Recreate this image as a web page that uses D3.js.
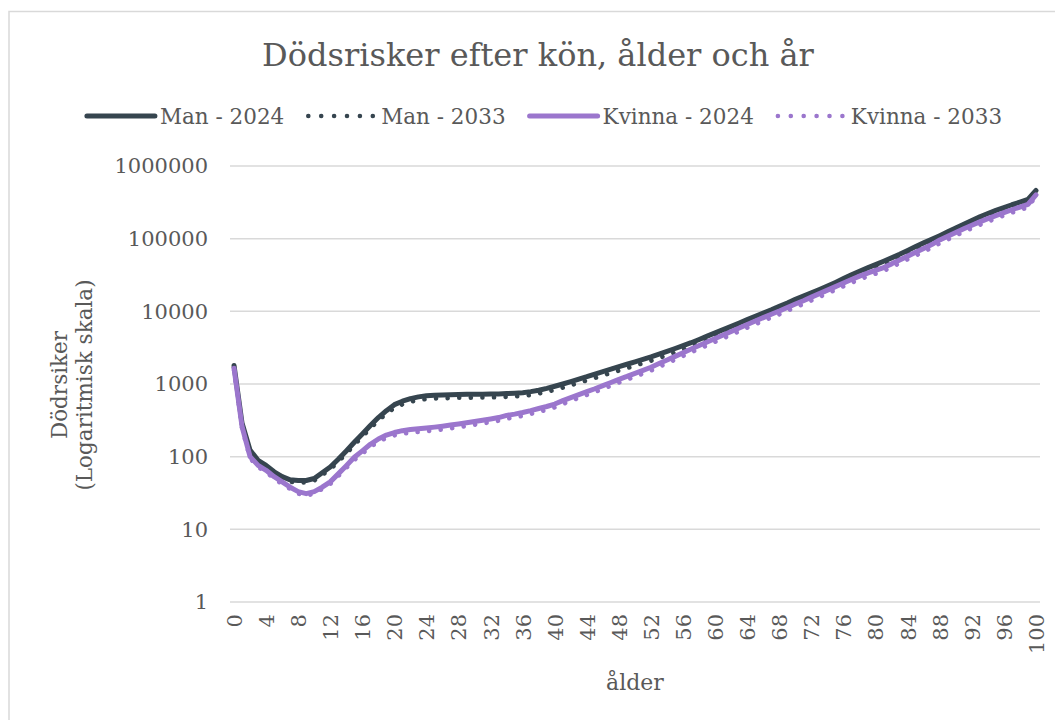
<!DOCTYPE html>
<html>
<head>
    <meta charset="utf-8">
    <title>Dödsrisker efter kön, ålder och år</title>
    <script src="https://d3js.org/d3.v7.min.js"></script>
    <style>
        body {
            margin: 0;
            background: #fff;
            font-family: "DejaVu Serif", serif;
        }
        svg text {
            fill: #595959;
        }
    </style>
</head>
<body>
    <div id="chart"></div>

    <script>
        // ålder 0..100
        const ages = d3.range(0, 101);
        const xTicks = d3.range(0, 101, 4);
        const yTicks = [1, 10, 100, 1000, 10000, 100000, 1000000];

        const seriesNames = ["Man - 2024", "Man - 2033", "Kvinna - 2024", "Kvinna - 2033"];

        const man2024 = [
            1800, 290, 123, 89, 76, 62, 53, 48, 47, 47,
            50, 60, 72, 92, 120, 158, 205, 268, 345, 430,
            520, 580, 630, 665, 690, 700, 705, 712, 716, 720,
            722, 724, 726, 730, 738, 748, 760, 785, 820, 870,
            930, 1000, 1080, 1170, 1260, 1370, 1480, 1600, 1730, 1870,
            2020, 2180, 2360, 2580, 2820, 3080, 3370, 3700, 4100, 4550,
            5050, 5600, 6200, 6900, 7700, 8550, 9500, 10500, 11700, 13000,
            14600, 16200, 18000, 20000, 22300, 25000, 28200, 31800, 35600, 39600,
            44000, 48800, 54400, 61000, 69000, 78000, 87500, 98000, 110000, 124000,
            140000, 158000, 178000, 200000, 222000, 245000, 268000, 293000, 318000, 346000,
            460000
        ];
        const man2033 = [
            1700, 270, 115, 84, 71, 58, 50, 45, 44, 44,
            47, 56, 67, 85, 110, 145, 188, 245, 315, 390,
            470, 525, 570, 600, 620, 630, 635, 640, 645, 648,
            650, 652, 654, 657, 664, 673, 684, 705, 738, 780,
            830, 890, 960, 1040, 1120, 1210, 1310, 1420, 1530, 1650,
            1790, 1930, 2090, 2280, 2490, 2720, 2980, 3270, 3600, 3990,
            4440, 4930, 5450, 6070, 6770, 7520, 8360, 9240, 10300, 11400,
            12800, 14200, 15800, 17600, 19600, 22000, 24800, 28000, 31300, 34800,
            38700, 43000, 48000, 54000, 61000, 69000, 77000, 86500, 97000, 109000,
            124000, 140000, 158000, 178000, 199000, 221000, 243000, 267000, 293000, 322000,
            440000
        ];
        const kvinna2024 = [
            1650, 260, 100, 76, 65, 53, 45, 38, 33, 31,
            33, 38, 45, 58, 75, 98, 120, 148, 175, 198,
            215, 228, 236, 242, 248, 255, 263, 272, 282, 293,
            305, 317, 330, 345, 370, 385, 405, 430, 460, 490,
            530, 590, 650, 715, 785, 860, 950, 1050, 1160, 1270,
            1400, 1540, 1700, 1910, 2140, 2400, 2700, 3030, 3380, 3780,
            4220, 4720, 5280, 5900, 6600, 7350, 8200, 9100, 10100, 11300,
            12600, 14000, 15700, 17500, 19600, 21900, 24500, 27400, 30500, 33500,
            36500, 40000, 45000, 51000, 57500, 65000, 73500, 83000, 96000, 108000,
            122000, 137000, 153000, 170000, 189000, 207000, 228000, 250000, 272000, 296000,
            400000
        ];
        const kvinna2033 = [
            1550, 245, 95, 72, 61, 50, 42, 36, 31, 29,
            31, 36, 42, 54, 70, 90, 110, 136, 160, 181,
            196, 207, 214, 219, 224, 230, 237, 245, 254, 264,
            275, 286, 298, 312, 333, 347, 365, 387, 414, 441,
            477, 530, 585, 643, 706, 774, 855, 945, 1045, 1145,
            1260, 1390, 1530, 1720, 1930, 2160, 2430, 2730, 3040, 3400,
            3800, 4250, 4750, 5310, 5940, 6620, 7380, 8190, 9090, 10200,
            11300, 12600, 14100, 15800, 17600, 19700, 22100, 24700, 27500, 30200,
            32900, 36000, 40500, 46000, 52000, 58500, 66000, 75000, 86500, 97000,
            110000, 124000, 139000, 155000, 172000, 188000, 208000, 228000, 248000, 270000,
            385000
        ];

        const seriesValues = [man2024, man2033, kvinna2024, kvinna2033];
        const seriesColors = ["#36454f", "#36454f", "#9b76cd", "#9b76cd"];
        const seriesDotted = [false, true, false, true];

        const width = 1055, height = 720;
        const margin = {top: 166, right: 15, bottom: 118, left: 230};

        const svg = d3.select("#chart")
            .append("svg")
            .attr("width", width)
            .attr("height", height)
            .style("display", "block");

        // chart area border (runs off the right and bottom of the picture)
        svg.append("rect")
            .attr("x", 9)
            .attr("y", 11.5)
            .attr("width", 1100)
            .attr("height", 800)
            .attr("fill", "none")
            .attr("stroke", "#d9d9d9")
            .attr("stroke-width", 1.5);

        const x = d3.scalePoint()
            .domain(ages)
            .range([margin.left, width - margin.right])
            .padding(0.5);

        const y = d3.scaleLog()
            .domain([1, 1000000])
            .range([height - margin.bottom, margin.top]);

        // gridlines
        svg.append("g")
            .selectAll("line")
            .data(yTicks)
            .join("line")
            .attr("x1", margin.left)
            .attr("x2", width - margin.right)
            .attr("y1", d => y(d))
            .attr("y2", d => y(d))
            .attr("stroke", "#d9d9d9")
            .attr("stroke-width", 1.5);

        // y axis
        const yAxis = svg.append("g")
            .attr("transform", `translate(${margin.left},0)`)
            .call(d3.axisLeft(y).tickValues(yTicks).tickFormat(d3.format("d")).tickSize(0).tickPadding(22));
        yAxis.select(".domain").remove();
        yAxis.selectAll("text")
            .attr("font-family", "DejaVu Serif, serif")
            .attr("font-size", 21)
            .attr("fill", "#595959");

        // x axis
        const xAxis = svg.append("g")
            .attr("transform", `translate(0,${height - margin.bottom})`)
            .call(d3.axisBottom(x).tickValues(xTicks).tickSize(0).tickPadding(0));
        xAxis.select(".domain").remove();
        xAxis.selectAll("text")
            .attr("font-family", "DejaVu Serif, serif")
            .attr("font-size", 21)
            .attr("fill", "#595959")
            .attr("text-anchor", "end")
            .attr("dy", "0.35em")
            .attr("transform", "translate(0,12) rotate(-90)")
            .attr("y", 0)
            .attr("x", 0);

        // lines
        const line = d3.line()
            .x((d, i) => x(ages[i]))
            .y(d => y(d));

        svg.append("g")
            .selectAll("path")
            .data(seriesValues)
            .join("path")
            .attr("d", d => line(d))
            .attr("fill", "none")
            .attr("stroke", (d, i) => seriesColors[i])
            .attr("stroke-width", (d, i) => seriesDotted[i] ? 4.5 : 5)
            .attr("stroke-linecap", "round")
            .attr("stroke-linejoin", "round")
            .attr("stroke-dasharray", (d, i) => seriesDotted[i] ? "0.1 11.5" : null);

        // title
        svg.append("text")
            .attr("x", 538)
            .attr("y", 66)
            .attr("text-anchor", "middle")
            .attr("font-size", 32)
            .text("Dödsrisker efter kön, ålder och år");

        // legend
        const legend = svg.append("g");
        let lx = 0;
        const legendY = 116;
        seriesNames.forEach((name, i) => {
            legend.append("line")
                .attr("x1", lx + 2)
                .attr("x2", lx + 70)
                .attr("y1", legendY)
                .attr("y2", legendY)
                .attr("stroke", seriesColors[i])
                .attr("stroke-width", seriesDotted[i] ? 4.5 : 5)
                .attr("stroke-linecap", "round")
                .attr("stroke-dasharray", seriesDotted[i] ? "0.1 12.8" : null);
            const t = legend.append("text")
                .attr("x", lx + 75)
                .attr("y", legendY)
                .attr("dy", "0.35em")
                .attr("font-size", 21.5)
                .text(name);
            lx += 75 + t.node().getComputedTextLength() + 22;
        });
        lx -= 22;
        legend.attr("transform", `translate(${(84 + 1003) / 2 - lx / 2},0)`);

        // axis titles
        svg.append("text")
            .attr("x", (margin.left + width - margin.right) / 2)
            .attr("y", 690)
            .attr("text-anchor", "middle")
            .attr("font-size", 22)
            .text("ålder");

        const yTitle = svg.append("text")
            .attr("transform", "translate(59,385) rotate(-90)")
            .attr("text-anchor", "middle")
            .attr("font-size", 21.5);
        yTitle.append("tspan").attr("x", 0).attr("dy", "0.35em").text("Dödrsiker");
        yTitle.append("tspan").attr("x", 0).attr("dy", "1.2em").text("(Logaritmisk skala)");
    </script>
</body>
</html>
